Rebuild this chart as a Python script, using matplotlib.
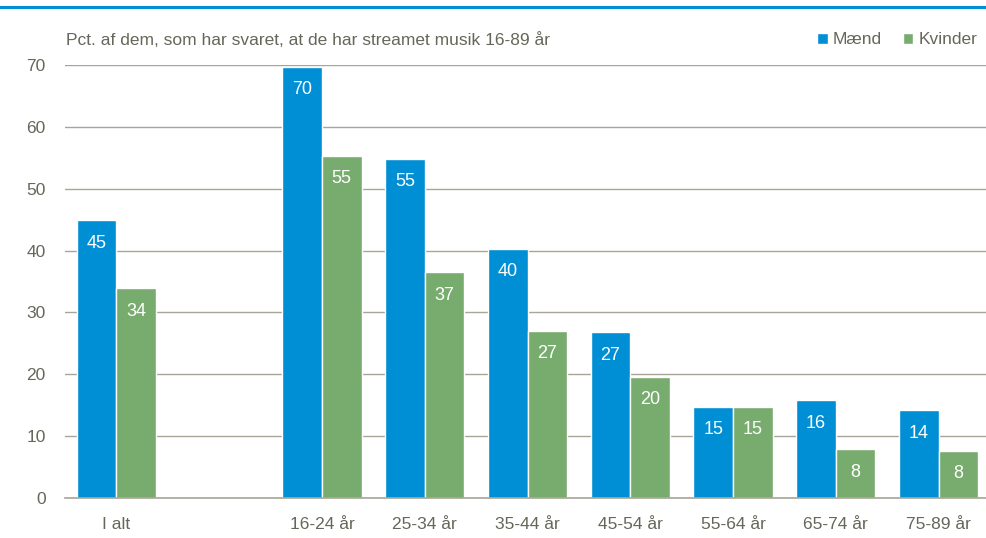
import matplotlib

matplotlib.use("Agg")
import matplotlib.pyplot as plt
import numpy as np

categories = ["I alt", "", "16-24 år", "25-34 år", "35-44 år", "45-54 år", "55-64 år", "65-74 år", "75-89 år"]
maend = [44.9, np.nan, 69.7, 54.8, 40.3, 26.8, 14.7, 15.8, 14.2]
kvinder = [33.9, np.nan, 55.3, 36.5, 27.0, 19.6, 14.7, 7.9, 7.6]
maend_labels = ["45", "", "70", "55", "40", "27", "15", "16", "14"]
kvinder_labels = ["34", "", "55", "37", "27", "20", "15", "8", "8"]

BLUE = "#008fd5"
GREEN = "#77ac6e"
TXT = "#66665a"
GRID = "#a8a496"

plt.rcParams["font.family"] = ["Liberation Sans Narrow", "Liberation Sans", "DejaVu Sans"]

fig = plt.figure(figsize=(9.87, 5.38), dpi=100)
ax = fig.add_axes([65 / 987, 40 / 538, (990 - 65) / 987, (498 - 65) / 538])

x = np.arange(len(categories))
w = 0.385
b1 = ax.bar(x - w / 2, maend, w, color=BLUE, edgecolor="white", linewidth=1, label="Mænd")
b2 = ax.bar(x + w / 2, kvinder, w, color=GREEN, edgecolor="white", linewidth=1, label="Kvinder")

for bars, labs in ((b1, maend_labels), (b2, kvinder_labels)):
    for rect, lab in zip(bars, labs):
        if not lab:
            continue
        ax.text(rect.get_x() + rect.get_width() / 2, rect.get_height() - 3.7, lab,
                ha="center", va="center", color="white", fontsize=13)

ax.set_xlim(-0.5, len(categories) - 0.5)
ax.set_ylim(0, 70)
ax.set_yticks(range(0, 71, 10))
ax.set_xticks(x)
ax.set_xticklabels(categories)
ax.set_axisbelow(True)
ax.yaxis.grid(True, color=GRID, linewidth=1.0)
ax.tick_params(axis="both", length=0, labelsize=12.5, colors=TXT)
ax.tick_params(axis="y", pad=14)
ax.tick_params(axis="x", pad=14)
for s in ("left", "right", "top"):
    ax.spines[s].set_visible(False)
ax.spines["bottom"].set_color(GRID)
ax.spines["bottom"].set_linewidth(1.2)

fig.text(66 / 987, 1 - 40 / 538, "Pct. af dem, som har svaret, at de har streamet musik 16-89 år",
         fontsize=12.5, color=TXT, va="center", ha="left")

ax.legend(loc="center right", bbox_to_anchor=(0.994, 1 + 25 / 433), ncol=2, frameon=False,
          fontsize=12.5, labelcolor=TXT, handlelength=0.6, handleheight=0.6,
          handletextpad=0.3, columnspacing=1.2, borderaxespad=0)

fig.add_artist(plt.Line2D([0, 1], [1 - 7 / 538, 1 - 7 / 538], color=BLUE, linewidth=2.2,
                          transform=fig.transFigure))

fig.savefig("out.png", dpi=100)
